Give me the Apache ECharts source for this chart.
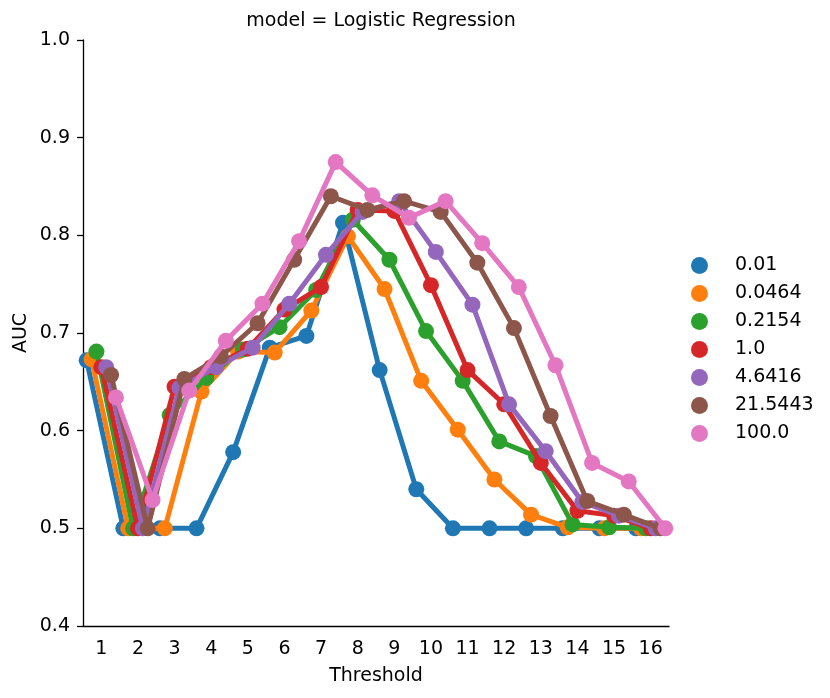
<!DOCTYPE html>
<html>
<head>
<meta charset="utf-8">
<script src="https://cdn.jsdelivr.net/npm/echarts@6/dist/echarts.min.js"></script>
<style>
html,body{margin:0;padding:0;background:#fff;}
#chart{width:830px;height:698px;}
</style>
</head>
<body>
<div id="chart"></div>
<script>
const thresholds = ['1','2','3','4','5','6','7','8','9','10','11','12','13','14','15','16'];
const yTicks = [0.4, 0.5, 0.6, 0.7, 0.8, 0.9, 1.0];
const hueNames = ['0.01','0.0464','0.2154','1.0','4.6416','21.5443','100.0'];
const auc_0_01    = [0.672,0.500,0.500,0.500,0.578,0.685,0.697,0.813,0.662,0.540,0.500,0.500,0.500,0.500,0.500,0.500];
const auc_0_0464  = [0.673,0.500,0.500,0.640,0.681,0.680,0.723,0.799,0.745,0.651,0.601,0.550,0.514,0.501,0.500,0.500];
const auc_0_2154  = [0.681,0.500,0.616,0.654,0.683,0.706,0.744,0.816,0.775,0.702,0.651,0.589,0.574,0.504,0.501,0.500];
const auc_1_0     = [0.665,0.500,0.645,0.665,0.684,0.724,0.747,0.826,0.825,0.749,0.662,0.627,0.567,0.518,0.513,0.500];
const auc_4_6416  = [0.665,0.500,0.644,0.665,0.685,0.730,0.780,0.824,0.835,0.783,0.729,0.627,0.579,0.527,0.513,0.500];
const auc_21_5443 = [0.657,0.500,0.653,0.676,0.710,0.775,0.840,0.826,0.835,0.824,0.772,0.705,0.615,0.528,0.514,0.500];
const auc_100_0   = [0.634,0.529,0.641,0.692,0.730,0.794,0.875,0.841,0.818,0.835,0.792,0.747,0.667,0.567,0.548,0.500];

const allValues = [auc_0_01, auc_0_0464, auc_0_2154, auc_1_0, auc_4_6416, auc_21_5443, auc_100_0];
const colors = ['#1f77b4','#ff7f0e','#2ca02c','#d62728','#9467bd','#8c564b','#e377c2'];
const dodge = 0.8;
const nH = hueNames.length;
const FONT = 'DejaVu Sans';
const FS = 19;

const series = hueNames.map((name, h) => {
  const off = -dodge / 2 + h * dodge / (nH - 1);
  return {
    name: name,
    type: 'line',
    xAxisIndex: 1,
    z: 3 + h,
    data: allValues[h].map((v, i) => [i + 1 + off, v]),
    symbol: 'circle',
    symbolSize: 16,
    showSymbol: true,
    lineStyle: { width: 5, color: colors[h] },
    itemStyle: { color: colors[h], borderWidth: 0 },
    emphasis: { disabled: true },
    animation: false
  };
});

const chart = echarts.init(document.getElementById('chart'), null, { renderer: 'canvas' });
chart.setOption({
  animation: false,
  textStyle: { fontFamily: FONT },
  title: {
    text: 'model = Logistic Regression',
    left: 376,
    textAlign: 'center',
    top: 7,
    textStyle: { fontFamily: FONT, fontSize: FS, fontWeight: 'normal', color: '#000' }
  },
  legend: {
    orient: 'vertical',
    left: 691,
    top: 256,
    padding: 0,
    icon: 'circle',
    itemWidth: 17,
    itemHeight: 17,
    itemGap: 9,
    data: hueNames,
    textStyle: { fontFamily: FONT, fontSize: FS, lineHeight: 17, color: '#000', padding: [0, 0, 0, 22] }
  },
  grid: { left: 83, top: 40, width: 586, height: 586, containLabel: false },
  xAxis: [
    {
      type: 'category',
      data: thresholds,
      boundaryGap: true,
      name: 'Threshold',
      nameLocation: 'middle',
      nameGap: 41,
      nameTextStyle: { fontFamily: FONT, fontSize: FS, color: '#000' },
      axisLine: { lineStyle: { color: '#000', width: 1.3 } },
      axisTick: { alignWithLabel: true, length: 6, lineStyle: { color: '#000', width: 1.3 } },
      axisLabel: { fontFamily: FONT, fontSize: FS, color: '#000', margin: 14 },
      splitLine: { show: false }
    },
    {
      type: 'value',
      min: 0.5,
      max: 16.5,
      show: false,
      splitLine: { show: false }
    }
  ],
  yAxis: {
    type: 'value',
    min: yTicks[0],
    max: yTicks[yTicks.length - 1],
    interval: 0.1,
    name: 'AUC',
    nameLocation: 'middle',
    nameRotate: 90,
    nameGap: 52,
    nameMoveOverlap: false,
    nameTextStyle: { fontFamily: FONT, fontSize: FS, color: '#000' },
    axisLine: { show: true, lineStyle: { color: '#000', width: 1.3 } },
    axisTick: { show: true, length: 6, lineStyle: { color: '#000', width: 1.3 } },
    axisLabel: { fontFamily: FONT, fontSize: FS, color: '#000', margin: 13, formatter: v => v.toFixed(1) },
    splitLine: { show: false }
  },
  series: series
});
</script>
</body>
</html>
